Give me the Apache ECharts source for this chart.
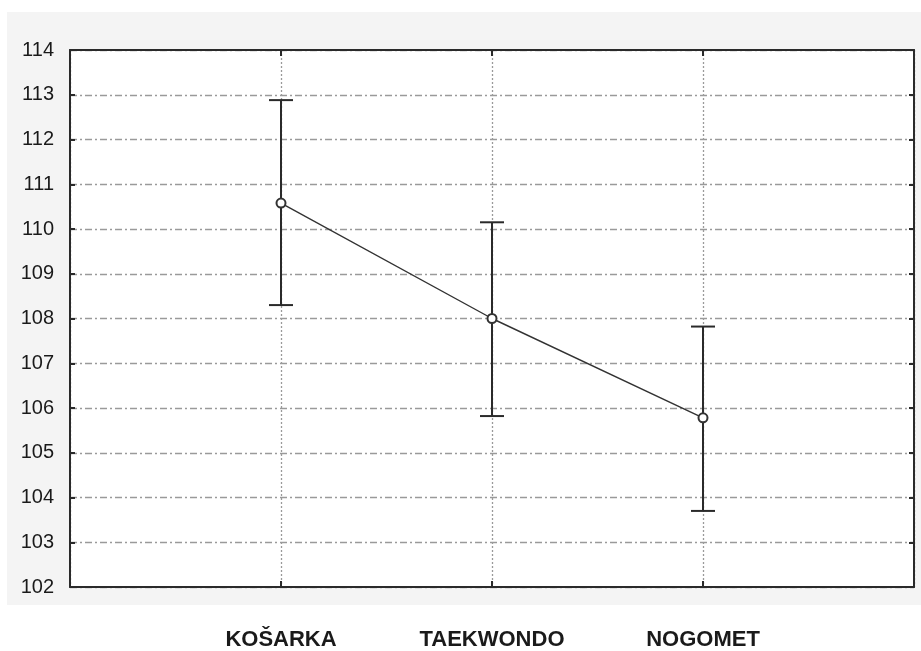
<!DOCTYPE html>
<html><head><meta charset="utf-8">
<script src="https://cdn.jsdelivr.net/npm/echarts@6/dist/echarts.min.js"></script>
<style>html,body{margin:0;padding:0;background:#fff}#c{width:921px;height:651px}</style>
</head><body><div id="c"></div>
<script>
const categories = ['KOŠARKA', 'TAEKWONDO', 'NOGOMET'];
const means = [110.58, 108.0, 105.78];
const upper = [112.88, 110.15, 107.82];
const lower = [108.3, 105.82, 103.7];
const yTicks = [102, 103, 104, 105, 106, 107, 108, 109, 110, 111, 112, 113, 114];

const chart = echarts.init(document.getElementById('c'));
const lineData = means.map((m, i) => [i + 1, m]);
const errData = means.map((m, i) => [i + 1, lower[i], upper[i]]);
const frame = { show: true, onZero: false, lineStyle: { color: '#2a2a2a', width: 2 } };
const tick = { show: true, inside: true, length: 6, lineStyle: { color: '#2a2a2a', width: 2 } };
const gridLine = { show: true, lineStyle: { color: '#9a9a9a', width: 1.3, type: [7, 3, 2, 3] } };
const vGridLine = { show: true, lineStyle: { color: '#9a9a9a', width: 1.3, type: [2, 2] } };
chart.setOption({
  backgroundColor: '#ffffff',
  animation: false,
  graphic: [{ type: 'rect', z: -100, silent: true, shape: { x: 7, y: 12, width: 914, height: 593 }, style: { fill: '#f4f4f4' } }],
  grid: { left: 70, right: 7, top: 50, bottom: 64, show: true, backgroundColor: '#ffffff', borderWidth: 0 },
  xAxis: [{
    type: 'value', min: 0, max: 4, interval: 1, position: 'bottom',
    axisLine: frame, axisTick: tick,
    axisLabel: { margin: 42, fontFamily: 'Liberation Sans Narrow, Arial Narrow, Liberation Sans, Arial, sans-serif', fontWeight: 'bold', fontSize: 22, color: '#1a1a1a',
      formatter: v => (v >= 1 && v <= 3) ? categories[v - 1] : '' },
    splitLine: vGridLine
  }, {
    type: 'value', min: 0, max: 4, interval: 1, position: 'top',
    axisLine: frame, axisTick: tick,
    axisLabel: { show: false }, splitLine: { show: false }
  }],
  yAxis: [{
    type: 'value', min: 102, max: 114, interval: 1, position: 'left',
    axisLine: frame, axisTick: Object.assign({}, tick, { length: 5 }),
    axisLabel: { margin: 16, fontFamily: 'Liberation Sans, Arial, sans-serif', fontSize: 20, color: '#1a1a1a',
      formatter: v => yTicks.includes(v) ? String(v) : '' },
    splitLine: gridLine
  }, {
    type: 'value', min: 102, max: 114, interval: 1, position: 'right',
    axisLine: frame, axisTick: Object.assign({}, tick, { length: 5 }),
    axisLabel: { show: false }, splitLine: { show: false }
  }],
  series: [{
    type: 'custom', z: 3,
    renderItem: (params, api) => {
      const x = api.value(0);
      const lo = api.coord([x, api.value(1)]);
      const hi = api.coord([x, api.value(2)]);
      const hw = 12;
      const st = { stroke: '#2a2a2a', lineWidth: 2 };
      return { type: 'group', children: [
        { type: 'line', shape: { x1: lo[0], y1: lo[1], x2: hi[0], y2: hi[1] }, style: st },
        { type: 'line', shape: { x1: lo[0] - hw, y1: lo[1], x2: lo[0] + hw, y2: lo[1] }, style: st },
        { type: 'line', shape: { x1: hi[0] - hw, y1: hi[1], x2: hi[0] + hw, y2: hi[1] }, style: st }
      ]};
    },
    encode: { x: 0, y: [1, 2] },
    data: errData
  }, {
    type: 'line', z: 4, data: lineData,
    symbol: 'emptyCircle', symbolSize: 9,
    lineStyle: { color: '#333', width: 1.4 },
    itemStyle: { color: '#333', borderColor: '#333', borderWidth: 1.3 }
  }]
});
</script></body></html>
